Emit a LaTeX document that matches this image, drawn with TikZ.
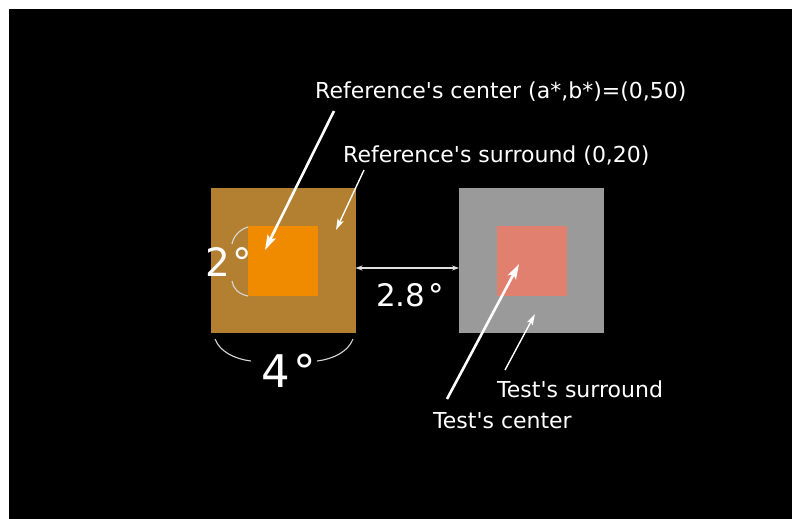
\documentclass[tikz,border=0pt]{standalone}
\usepackage{fontspec}
\setmainfont{DejaVu Sans}
\usetikzlibrary{arrows.meta, positioning}

\definecolor{refbrown}{RGB}{179,128,50}
\definecolor{reforange}{RGB}{240,139,0}
\definecolor{testgrey}{RGB}{154,154,154}
\definecolor{testpink}{RGB}{226,128,112}
\definecolor{arcgrey}{RGB}{215,215,215}
\newcommand{\apos}{\textquotesingle}

\begin{document}
\begin{tikzpicture}[
    x=1pt, y=-1pt,
    sq/.style={minimum size=#1, inner sep=0pt, outer sep=0pt},
    lbl/.style={text=white, inner sep=0pt, font=\fontsize{22}{26}\selectfont},
    deg/.style={text=white, inner sep=0pt, font=\fontsize{#1}{#1}\selectfont},
    bigarr/.style={-{Stealth[length=15pt, width=9pt, inset=3pt]}, white, line width=2.6pt},
    thinarr/.style={-{Stealth[length=11pt, width=6.5pt, inset=2pt]}, white, line width=1.4pt},
    dim/.style={{Stealth[length=7pt, width=5pt]}-{Stealth[length=7pt, width=5pt]}, white!88!black, line width=1.1pt},
    arcline/.style={arcgrey, line width=1.1pt}
]
% page and black field
\fill[white] (0,0) rectangle (792,519);
\fill[black] (9,9) rectangle (792,519);

% the two stimuli
\node[sq=145pt, fill=refbrown] (refsur) at (283,260) {};
\node[sq=70pt, fill=reforange] (refctr) at (283,261) {};
\node[sq=145pt, fill=testgrey] (testsur) at (531.5,260.5) {};
\node[sq=70pt, fill=testpink] (testctr) at (531.5,261) {};

% labels
\node[lbl, anchor=base west] (refctrlbl) at (315,98) {Reference\apos s center (a*,b*)=(0,50)};
\node[lbl, anchor=base west] (refsurlbl) at (343,162) {Reference\apos s surround (0,20)};
\node[lbl, anchor=base west] (testsurlbl) at (497,397) {Test\apos s surround};
\node[lbl, anchor=base west] (testctrlbl) at (433,428) {Test\apos s center};

% arrow ends
\coordinate (a1) at (334,111);
\coordinate (b1) at (265,250);
\coordinate (a2) at (364,170);
\coordinate (b2) at (336,230);
\coordinate (a3) at (447,399);
\coordinate (b3) at (519,264);
\coordinate (a4) at (505,370);
\coordinate (b4) at (535,314);

\draw[bigarr] (a1) -- (b1);
\draw[thinarr] (a2) -- (b2);
\draw[bigarr] (a3) -- (b3);
\draw[thinarr] (a4) -- (b4);

% separation
\draw[dim] (refsur.east |- 0,268) -- (testsur.west |- 0,268);
\node[deg=31, anchor=base west] (sep) at (376,306) {2.8\kern3pt°};

% visual angles
\node[deg=39, anchor=base west] (small) at (205,276) {2\kern3pt°};
\draw[arcline] (248,227) .. controls (238,230) and (233,238) .. (232,244);
\draw[arcline] (232,281) .. controls (233,288) and (238,294) .. (248,296);

\node[deg=45, anchor=base west] (large) at (261,387) {4\kern4pt°};
\draw[arcline] (215,339) .. controls (220,352) and (235,359) .. (251,361);
\draw[arcline] (317,361) .. controls (333,359) and (348,352) .. (353,339);
\end{tikzpicture}
\end{document}
